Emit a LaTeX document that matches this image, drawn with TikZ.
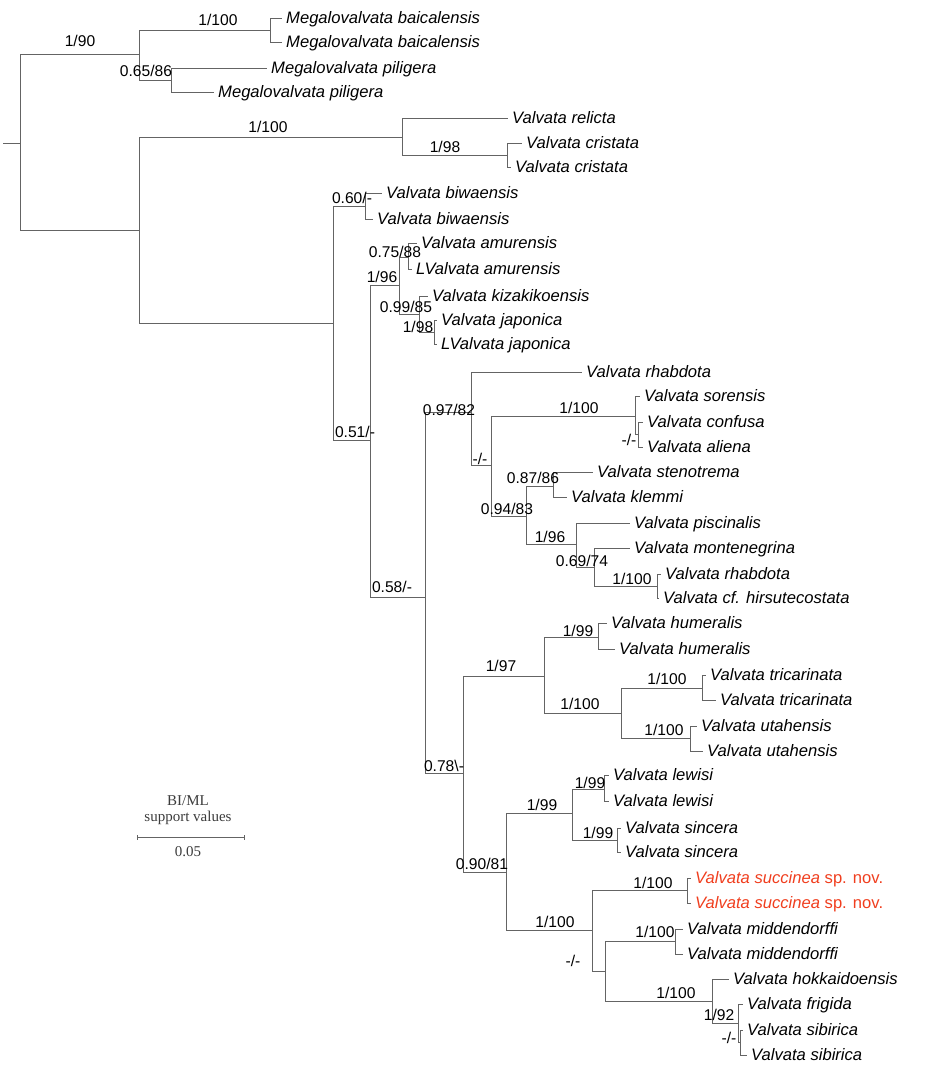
\documentclass[tikz,border=0pt]{standalone}
\usepackage{fontspec}
\setmainfont{Liberation Sans}
\newfontfamily\serifbar{Liberation Serif}
\definecolor{brc}{RGB}{100,100,100}
\definecolor{redsp}{RGB}{240,62,30}
\definecolor{bartxt}{RGB}{60,60,60}
\tikzset{
  br/.style={draw=brc, line width=0.95pt},
  tiplab/.style={anchor=west, inner xsep=4pt, inner ysep=0pt, font=\fontsize{16.6}{18}\selectfont\itshape, text height=12.5pt, text depth=2.5pt},
  sup/.style={inner sep=0pt, font=\fontsize{15.6}{17}\selectfont, text height=11.2pt, text depth=0pt},
  bartext/.style={inner sep=0pt, font=\serifbar\fontsize{15}{16}\selectfont, text=bartxt},
}
\begin{document}
\begin{tikzpicture}[x=1pt,y=-1pt]
\useasboundingbox (0,0) rectangle (945,1071);
% internal nodes
\coordinate (s0) at (3,143);
\coordinate (root) at (20,143);
\coordinate (A) at (139,54);
\coordinate (Bc) at (270,30);
\coordinate (Pc) at (171,80);
\coordinate (B) at (139,230);
\coordinate (C) at (402,137);
\coordinate (Cc) at (507,155);
\coordinate (D) at (333,323);
\coordinate (E) at (365,206);
\coordinate (F) at (370,440);
\coordinate (G) at (399,285);
\coordinate (I) at (408,257);
\coordinate (J) at (419,314);
\coordinate (K) at (434,332);
\coordinate (H) at (425,597);
\coordinate (L) at (471,412);
\coordinate (N) at (491,465);
\coordinate (O) at (635,416);
\coordinate (Q) at (638,434);
\coordinate (P) at (526,516);
\coordinate (R) at (553,486);
\coordinate (S) at (576,544);
\coordinate (T) at (594,567);
\coordinate (U) at (657,586);
\coordinate (M) at (463,773);
\coordinate (V) at (544,676);
\coordinate (X) at (598,637);
\coordinate (Y) at (621,713);
\coordinate (Z) at (702,688);
\coordinate (AA) at (690,738);
\coordinate (W) at (506,872);
\coordinate (BB) at (572,813);
\coordinate (DD) at (604,789);
\coordinate (EE) at (617,840);
\coordinate (CC) at (592,930);
\coordinate (FF) at (687,890);
\coordinate (GG) at (605,971);
\coordinate (HH) at (675,941);
\coordinate (II) at (712,1001);
\coordinate (JJ) at (738,1023);
\coordinate (KK) at (740,1042);
% tips
\node[tiplab] (t1) at (282,18) {Megalovalvata baicalensis};
\node[tiplab] (t2) at (282,42) {Megalovalvata baicalensis};
\node[tiplab] (t3) at (267,68) {Megalovalvata piligera};
\node[tiplab] (t4) at (214,92) {Megalovalvata piligera};
\node[tiplab] (t5) at (508,118) {Valvata relicta};
\node[tiplab] (t6) at (522,143) {Valvata cristata};
\node[tiplab] (t7) at (511,167) {Valvata cristata};
\node[tiplab] (t8) at (382,193) {Valvata biwaensis};
\node[tiplab] (t9) at (373,219) {Valvata biwaensis};
\node[tiplab] (t10) at (417,243) {Valvata amurensis};
\node[tiplab] (t11) at (412,269) {LValvata amurensis};
\node[tiplab] (t12) at (428,296) {Valvata kizakikoensis};
\node[tiplab] (t13) at (437,320) {Valvata japonica};
\node[tiplab] (t14) at (437,344) {LValvata japonica};
\node[tiplab] (t15) at (582,372) {Valvata rhabdota};
\node[tiplab] (t16) at (640,396) {Valvata sorensis};
\node[tiplab] (t17) at (643,422) {Valvata confusa};
\node[tiplab] (t18) at (643,447) {Valvata aliena};
\node[tiplab] (t19) at (593,472) {Valvata stenotrema};
\node[tiplab] (t20) at (567,497) {Valvata klemmi};
\node[tiplab] (t21) at (630,523) {Valvata piscinalis};
\node[tiplab] (t22) at (630,548) {Valvata montenegrina};
\node[tiplab] (t23) at (661,574) {Valvata rhabdota};
\node[tiplab] (t24) at (659,598) {Valvata cf. hirsutecostata};
\node[tiplab] (t25) at (607,623) {Valvata humeralis};
\node[tiplab] (t26) at (615,649) {Valvata humeralis};
\node[tiplab] (t27) at (706,675) {Valvata tricarinata};
\node[tiplab] (t28) at (716,700) {Valvata tricarinata};
\node[tiplab] (t29) at (697,726) {Valvata utahensis};
\node[tiplab] (t30) at (703,751) {Valvata utahensis};
\node[tiplab] (t31) at (609,775) {Valvata lewisi};
\node[tiplab] (t32) at (609,801) {Valvata lewisi};
\node[tiplab] (t33) at (621,828) {Valvata sincera};
\node[tiplab] (t34) at (621,852) {Valvata sincera};
\node[tiplab, text=redsp] (t35) at (691,878) {Valvata succinea \upshape sp. nov.};
\node[tiplab, text=redsp] (t36) at (691,903) {Valvata succinea \upshape sp. nov.};
\node[tiplab] (t37) at (683,929) {Valvata middendorffi};
\node[tiplab] (t38) at (683,954) {Valvata middendorffi};
\node[tiplab] (t39) at (729,979) {Valvata hokkaidoensis};
\node[tiplab] (t40) at (743,1004) {Valvata frigida};
\node[tiplab] (t41) at (743,1030) {Valvata sibirica};
\node[tiplab] (t42) at (747,1055) {Valvata sibirica};
% branches
\draw[br] (s0) -- (root);
\draw[br] (root) |- (A);  \draw[br] (root) |- (B);
\draw[br] (A) |- (Bc);    \draw[br] (A) |- (Pc);
\draw[br] (Bc) |- (t1.west); \draw[br] (Bc) |- (t2.west);
\draw[br] (Pc) |- (t3.west); \draw[br] (Pc) |- (t4.west);
\draw[br] (B) |- (C);     \draw[br] (B) |- (D);
\draw[br] (C) |- (t5.west); \draw[br] (C) |- (Cc);
\draw[br] (Cc) |- (t6.west); \draw[br] (Cc) |- (t7.west);
\draw[br] (D) |- (E);     \draw[br] (D) |- (F);
\draw[br] (E) |- (t8.west); \draw[br] (E) |- (t9.west);
\draw[br] (F) |- (G);     \draw[br] (F) |- (H);
\draw[br] (G) |- (I);     \draw[br] (G) |- (J);
\draw[br] (I) |- (t10.west); \draw[br] (I) |- (t11.west);
\draw[br] (J) |- (t12.west); \draw[br] (J) |- (K);
\draw[br] (K) |- (t13.west); \draw[br] (K) |- (t14.west);
\draw[br] (H) |- (L);     \draw[br] (H) |- (M);
\draw[br] (L) |- (t15.west); \draw[br] (L) |- (N);
\draw[br] (N) |- (O);     \draw[br] (N) |- (P);
\draw[br] (O) |- (t16.west); \draw[br] (O) |- (Q);
\draw[br] (Q) |- (t17.west); \draw[br] (Q) |- (t18.west);
\draw[br] (P) |- (R);     \draw[br] (P) |- (S);
\draw[br] (R) |- (t19.west); \draw[br] (R) |- (t20.west);
\draw[br] (S) |- (t21.west); \draw[br] (S) |- (T);
\draw[br] (T) |- (t22.west); \draw[br] (T) |- (U);
\draw[br] (U) |- (t23.west); \draw[br] (U) |- (t24.west);
\draw[br] (M) |- (V);     \draw[br] (M) |- (W);
\draw[br] (V) |- (X);     \draw[br] (V) |- (Y);
\draw[br] (X) |- (t25.west); \draw[br] (X) |- (t26.west);
\draw[br] (Y) |- (Z);     \draw[br] (Y) |- (AA);
\draw[br] (Z) |- (t27.west); \draw[br] (Z) |- (t28.west);
\draw[br] (AA) |- (t29.west); \draw[br] (AA) |- (t30.west);
\draw[br] (W) |- (BB);    \draw[br] (W) |- (CC);
\draw[br] (BB) |- (DD);   \draw[br] (BB) |- (EE);
\draw[br] (DD) |- (t31.west); \draw[br] (DD) |- (t32.west);
\draw[br] (EE) |- (t33.west); \draw[br] (EE) |- (t34.west);
\draw[br] (CC) |- (FF);   \draw[br] (CC) |- (GG);
\draw[br] (FF) |- (t35.west); \draw[br] (FF) |- (t36.west);
\draw[br] (GG) |- (HH);   \draw[br] (GG) |- (II);
\draw[br] (HH) |- (t37.west); \draw[br] (HH) |- (t38.west);
\draw[br] (II) |- (t39.west); \draw[br] (II) |- (JJ);
\draw[br] (JJ) |- (t40.west); \draw[br] (JJ) |- (KK);
\draw[br] (KK) |- (t41.west); \draw[br] (KK) |- (t42.west);
% support values
\node[sup] (l1) at (80,41) {1/90};
\node[sup] (l2) at (218,20) {1/100};
\node[sup] (l3) at (146,71) {0.65/86};
\node[sup] (l4) at (268,127) {1/100};
\node[sup] (l5) at (445,147) {1/98};
\node[sup] (l6) at (352,198) {0.60/-};
\node[sup] (l7) at (395,252) {0.75/88};
\node[sup] (l8) at (382,277) {1/96};
\node[sup] (l9) at (406,307) {0.99/85};
\node[sup] (l10) at (418,327) {1/98};
\node[sup] (l11) at (355,432) {0.51/-};
\node[sup] (l12) at (392,587) {0.58/-};
\node[sup] (l13) at (449,410) {0.97/82};
\node[sup] (l14) at (480,459) {-/-};
\node[sup] (l15) at (579,408) {1/100};
\node[sup] (l16) at (629,440) {-/-};
\node[sup] (l17) at (533,478) {0.87/86};
\node[sup] (l18) at (507,509) {0.94/83};
\node[sup] (l19) at (550,537) {1/96};
\node[sup] (l20) at (582,561) {0.69/74};
\node[sup] (l21) at (632,579) {1/100};
\node[sup] (l22) at (444,766) {0.78\textbackslash-};
\node[sup] (l23) at (501,666) {1/97};
\node[sup] (l24) at (578,631) {1/99};
\node[sup] (l25) at (580,704) {1/100};
\node[sup] (l26) at (667,679) {1/100};
\node[sup] (l27) at (664,730) {1/100};
\node[sup] (l28) at (482,864) {0.90/81};
\node[sup] (l29) at (542,805) {1/99};
\node[sup] (l30) at (590,783) {1/99};
\node[sup] (l31) at (598,833) {1/99};
\node[sup] (l32) at (555,922) {1/100};
\node[sup] (l33) at (653,883) {1/100};
\node[sup] (l34) at (573,961) {-/-};
\node[sup] (l35) at (655,932) {1/100};
\node[sup] (l36) at (676,993) {1/100};
\node[sup] (l37) at (719,1015) {1/92};
\node[sup] (l38) at (729,1038) {-/-};
% scale bar
\coordinate (sb1) at (137,837);
\coordinate (sb2) at (244,837);
\draw[draw=brc, line width=0.9pt] (sb1) -- (sb2);
\draw[draw=brc, line width=0.9pt] ([yshift=-2.5pt]sb1) -- ([yshift=2.5pt]sb1);
\draw[draw=brc, line width=0.9pt] ([yshift=-2.5pt]sb2) -- ([yshift=2.5pt]sb2);
\node[bartext] (bt1) at (188,801) {BI/ML};
\node[bartext] (bt2) at (188,818) {support values};
\node[bartext] (bt3) at (188,852) {0.05};
\end{tikzpicture}
\end{document}
